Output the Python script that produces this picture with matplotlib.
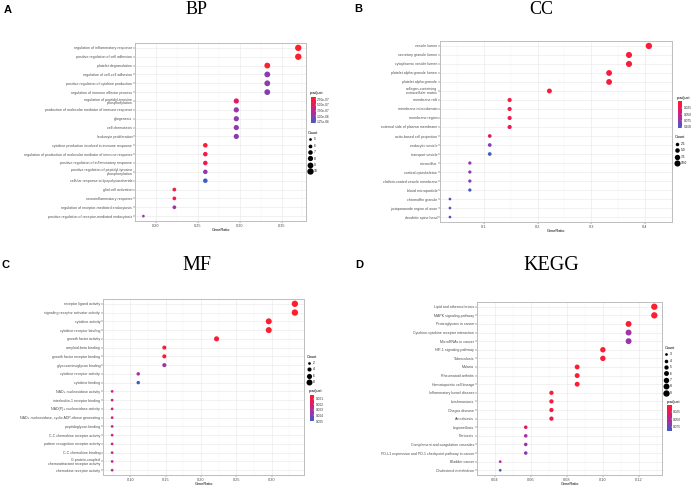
import matplotlib
matplotlib.use('Agg')
import matplotlib.pyplot as plt
import numpy as np
from matplotlib.colors import LinearSegmentedColormap, Normalize
from matplotlib.cm import ScalarMappable
from matplotlib.lines import Line2D

# ---------------- data ----------------
bp_terms = ["regulation of inflammatory response", "positive regulation of cell adhesion",
            "platelet degranulation", "regulation of cell-cell adhesion",
            "positive regulation of cytokine production", "regulation of immune effector process",
            "regulation of peptidyl-tyrosine\nphosphorylation",
            "production of molecular mediator of immune response", "gliogenesis",
            "cell chemotaxis", "leukocyte proliferation",
            "cytokine production involved in immune response",
            "regulation of production of molecular mediator of immune response",
            "positive regulation of inflammatory response",
            "positive regulation of peptidyl-tyrosine\nphosphorylation",
            "cellular response to lipopolysaccharide", "glial cell activation",
            "neuroinflammatory response", "regulation of receptor-mediated endocytosis",
            "positive regulation of receptor-mediated endocytosis"]
bp_ratio = [0.370, 0.370, 0.333, 0.333, 0.333, 0.333, 0.296, 0.296, 0.296, 0.296, 0.296,
            0.259, 0.259, 0.259, 0.259, 0.259, 0.222, 0.222, 0.222, 0.185]
bp_count = [10, 10, 9, 9, 9, 9, 8, 8, 8, 8, 8, 7, 7, 7, 7, 7, 6, 6, 6, 5]
bp_padj = [1.7e-7, 1.7e-7, 2.0e-7, 1.01e-6, 1.0e-6, 1.05e-6, 4.9e-7, 9.8e-7, 1.0e-6, 1.0e-6,
           1.02e-6, 2.6e-7, 3.8e-7, 4.0e-7, 9.8e-7, 1.3e-6, 2.9e-7, 3.8e-7, 9.5e-7, 9.5e-7]

cc_terms = ["vesicle lumen", "secretory granule lumen", "cytoplasmic vesicle lumen",
            "platelet alpha granule lumen", "platelet alpha granule",
            "collagen-containing\nextracellular matrix", "membrane raft", "membrane microdomain",
            "membrane region", "external side of plasma membrane", "actin-based cell projection",
            "endocytic vesicle", "transport vesicle", "microvillus", "cortical cytoskeleton",
            "clathrin-coated vesicle membrane", "blood microparticle", "chromaffin granule",
            "juxtaparanode region of axon", "dendritic spine head"]
cc_ratio = [0.407, 0.370, 0.370, 0.333, 0.333, 0.222, 0.148, 0.148, 0.148, 0.148,
            0.111, 0.111, 0.111, 0.074, 0.074, 0.074, 0.074, 0.037, 0.037, 0.037]
cc_count = [11, 10, 10, 9, 9, 6, 4, 4, 4, 4, 3, 3, 3, 2, 2, 2, 2, 1, 1, 1]
cc_padj = [0.010, 0.011, 0.011, 0.012, 0.012, 0.012, 0.014, 0.020, 0.020, 0.022,
           0.035, 0.080, 0.104, 0.070, 0.078, 0.078, 0.100, 0.092, 0.092, 0.095]

mf_terms = ["receptor ligand activity", "signaling receptor activator activity",
            "cytokine activity", "cytokine receptor binding", "growth factor activity",
            "amyloid-beta binding", "growth factor receptor binding", "glycosaminoglycan binding",
            "cytokine receptor activity", "cytokine binding", "NAD+ nucleosidase activity",
            "interleukin-1 receptor binding", "NAD(P)+ nucleosidase activity",
            "NAD+ nucleosidase, cyclic ADP-ribose generating", "peptidoglycan binding",
            "C-C chemokine receptor activity", "pattern recognition receptor activity",
            "C-C chemokine binding", "G protein-coupled\nchemoattractant receptor activity",
            "chemokine receptor activity"]
mf_ratio = [0.333, 0.333, 0.296, 0.296, 0.222, 0.148, 0.148, 0.148, 0.111, 0.111,
            0.074, 0.074, 0.074, 0.074, 0.074, 0.074, 0.074, 0.074, 0.074, 0.074]
mf_count = [9, 9, 8, 8, 6, 4, 4, 4, 3, 3, 2, 2, 2, 2, 2, 2, 2, 2, 2, 2]
mf_padj = [0.0003, 0.0003, 0.0004, 0.0004, 0.0005, 0.0006, 0.0008, 0.0034, 0.0030, 0.0050,
           0.0024, 0.0024, 0.0024, 0.0024, 0.0024, 0.0025, 0.0025, 0.0025, 0.0026, 0.0026]

kegg_terms = ["Lipid and atherosclerosis", "MAPK signaling pathway", "Proteoglycans in cancer",
              "Cytokine-cytokine receptor interaction", "MicroRNAs in cancer",
              "HIF-1 signaling pathway", "Tuberculosis", "Malaria", "Rheumatoid arthritis",
              "Hematopoietic cell lineage", "Inflammatory bowel disease", "Leishmaniasis",
              "Chagas disease", "Amoebiasis", "Legionellosis", "Pertussis",
              "Complement and coagulation cascades",
              "PD-L1 expression and PD-1 checkpoint pathway in cancer", "Bladder cancer",
              "Cholesterol metabolism"]
kegg_ratio = [0.1286, 0.1286, 0.1143, 0.1143, 0.1143, 0.1000, 0.1000, 0.0857, 0.0857, 0.0857,
              0.0714, 0.0714, 0.0714, 0.0714, 0.0571, 0.0571, 0.0571, 0.0571, 0.0429, 0.0429]
kegg_count = [9, 9, 8, 8, 8, 7, 7, 6, 6, 6, 5, 5, 5, 5, 4, 4, 4, 4, 3, 3]
kegg_padj = [0.002, 0.003, 0.006, 0.060, 0.062, 0.006, 0.008, 0.005, 0.006, 0.008,
             0.010, 0.012, 0.016, 0.016, 0.030, 0.055, 0.060, 0.070, 0.050, 0.090]

bp_cbar_ticks = [2.5e-7, 5.0e-7, 7.5e-7, 1.0e-6, 1.25e-6]
bp_cbar_labels = ["2.50e-07", "5.00e-07", "7.50e-07", "1.00e-06", "1.25e-06"]
cc_cbar_ticks = [0.025, 0.050, 0.075, 0.100]
cc_cbar_labels = ["0.025", "0.050", "0.075", "0.100"]
mf_cbar_ticks = [0.001, 0.002, 0.003, 0.004, 0.005]
mf_cbar_labels = ["0.001", "0.002", "0.003", "0.004", "0.005"]
kegg_cbar_ticks = [0.025, 0.050, 0.075]
kegg_cbar_labels = ["0.025", "0.050", "0.075"]

bp_size_ticks = [5, 6, 7, 8, 9, 10]
bp_size_labels = ["5", "6", "7", "8", "9", "10"]
cc_size_ticks = [2.5, 5.0, 7.5, 10.0]
cc_size_labels = ["2.5", "5.0", "7.5", "10.0"]
mf_size_ticks = [2, 4, 6, 8]
mf_size_labels = ["2", "4", "6", "8"]
kegg_size_ticks = [3, 4, 5, 6, 7, 8, 9]
kegg_size_labels = ["3", "4", "5", "6", "7", "8", "9"]

bp_xticks = [0.20, 0.25, 0.30, 0.35]
cc_xticks = [0.1, 0.2, 0.3, 0.4]
mf_xticks = [0.10, 0.15, 0.20, 0.25, 0.30]
kegg_xticks = [0.04, 0.06, 0.08, 0.10, 0.12]

# ---------------- style ----------------
W, H = 692, 486
fig = plt.figure(figsize=(W / 100, H / 100), dpi=100)
cmap = LinearSegmentedColormap.from_list(
    "padj", [(0.0, "#FF1F2A"), (0.3, "#E8185E"), (0.55, "#B52A98"),
             (0.75, "#8B3CB0"), (1.0, "#3D5CC4")])
SANS = "Liberation Sans"
SERIF = "Liberation Serif"


def rect(l, t, r, b):
    return [l / W, 1 - b / H, (r - l) / W, (b - t) / H]


def size_of(c, cmin, cmax, smin=3.8, smax=21.0):
    return smin + (smax - smin) * (np.asarray(c, float) - cmin) / (cmax - cmin)


def panel(axr, terms, ratio, count, padj, vmin, vmax, xticks, xfmt,
          cbar_ticks, cbar_labels, size_ticks, size_labels, cbar_pos, cbar_title_pos,
          leg_pos):
    ax = fig.add_axes(rect(*axr))
    n = len(terms)
    y = np.arange(n)
    norm = Normalize(vmin=vmin, vmax=vmax)
    cmin, cmax = min(count), max(count)
    ax.scatter(ratio, y, s=size_of(count, cmin, cmax), c=padj, cmap=cmap, norm=norm,
               linewidths=0, zorder=3)
    lo, hi = min(ratio), max(ratio)
    pad = 0.05 * (hi - lo)
    ax.set_xlim(lo - pad, hi + pad)
    ax.set_ylim(n - 1 + 0.55, -0.55)
    ax.set_yticks(y)
    ax.set_yticklabels(terms, fontsize=2.6, family=SANS, color="#4D4D4D",
                       linespacing=0.9)
    ax.set_xticks(xticks)
    ax.set_xticklabels([xfmt.format(v) for v in xticks], fontsize=2.8, family=SANS,
                       color="#4D4D4D")
    minor = [(a + b) / 2 for a, b in zip(xticks[:-1], xticks[1:])]
    minor = [xticks[0] - (xticks[1] - xticks[0]) / 2] + minor + \
        [xticks[-1] + (xticks[1] - xticks[0]) / 2]
    ax.set_xticks(minor, minor=True)
    ax.tick_params(axis="x", which="minor", length=0)
    ax.tick_params(axis="both", which="major", length=1.2, width=0.3, color="#333333",
                   pad=0.8)
    ax.grid(True, which="major", color="#EBEBEB", linewidth=0.5, zorder=0)
    ax.grid(True, which="minor", axis="x", color="#F3F3F3", linewidth=0.3, zorder=0)
    ax.set_axisbelow(True)
    for sp in ax.spines.values():
        sp.set_color("#BDBDBD")
        sp.set_linewidth(0.7)
    ax.set_xlabel("GeneRatio", fontsize=2.8, family=SANS, labelpad=0.2, color="black")

    # colorbar
    cax = fig.add_axes(rect(*cbar_pos))
    cb = fig.colorbar(ScalarMappable(norm=norm, cmap=cmap), cax=cax)
    cb.outline.set_visible(False)
    cax.invert_yaxis()
    cb.set_ticks(cbar_ticks)
    cb.set_ticklabels(cbar_labels)
    cax.tick_params(labelsize=2.3, length=1, width=0.3, color="white", direction="in",
                    pad=1.2, labelcolor="#333333")
    for lab in cax.get_yticklabels():
        lab.set_family(SANS)
    fig.text(cbar_title_pos[0] / W, 1 - cbar_title_pos[1] / H, "p.adjust", fontsize=2.8,
             family=SANS, ha="left", va="center")

    # size legend
    handles = [Line2D([], [], marker="o", linestyle="", color="black",
                      markersize=float(np.sqrt(size_of(v, cmin, cmax))), markeredgewidth=0)
               for v in size_ticks]
    leg = fig.legend(handles, size_labels, title="Count", loc="upper left",
                     bbox_to_anchor=(leg_pos[0] / W, 1 - leg_pos[1] / H),
                     frameon=False, fontsize=2.3, title_fontsize=2.8, borderpad=0,
                     handletextpad=0.6, labelspacing=0.75, handlelength=1.2,
                     alignment="left", borderaxespad=0)
    for t in leg.get_texts():
        t.set_family(SANS)
    leg.get_title().set_family(SANS)
    return ax


panel((135, 43, 306, 221), bp_terms, bp_ratio, bp_count, bp_padj, 1.5e-7, 1.3e-6,
      bp_xticks, "{:.2f}", bp_cbar_ticks, bp_cbar_labels, bp_size_ticks, bp_size_labels,
      (311, 97, 315.5, 123), (310, 93), (308, 131))
panel((440, 41, 672, 222), cc_terms, cc_ratio, cc_count, cc_padj, 0.0005, 0.104,
      cc_xticks, "{:.1f}", cc_cbar_ticks, cc_cbar_labels, cc_size_ticks, cc_size_labels,
      (677.5, 101.5, 682, 128), (677, 97.5), (675, 135.5))
panel((103, 299, 304, 475), mf_terms, mf_ratio, mf_count, mf_padj, 0.00024, 0.0050,
      mf_xticks, "{:.2f}", mf_cbar_ticks, mf_cbar_labels, mf_size_ticks, mf_size_labels,
      (309.5, 394.5, 314, 421), (309, 391), (307, 354.5))
panel((477, 302, 662, 475), kegg_terms, kegg_ratio, kegg_count, kegg_padj, 0.0005, 0.090,
      kegg_xticks, "{:.2f}", kegg_cbar_ticks, kegg_cbar_labels, kegg_size_ticks,
      kegg_size_labels, (667, 404.5, 671.5, 431), (666.5, 401.5), (664.5, 346))

# titles & panel letters
for txt, x, y, fs in [("BP", 197, 9, 13), ("CC", 541, 9, 13),
                      ("MF", 197, 265, 14.5), ("KEGG", 551, 265, 14.5)]:
    fig.text(x / W, 1 - y / H, txt, fontsize=fs, family=SERIF, ha="center", va="center")
for txt, x, y in [("A", 8, 10), ("B", 358, 9), ("C", 6, 265), ("D", 359, 265)]:
    fig.text(x / W, 1 - y / H, txt, fontsize=8, family=SANS, weight="bold",
             ha="center", va="center")

fig.savefig("out.png", dpi=100)
